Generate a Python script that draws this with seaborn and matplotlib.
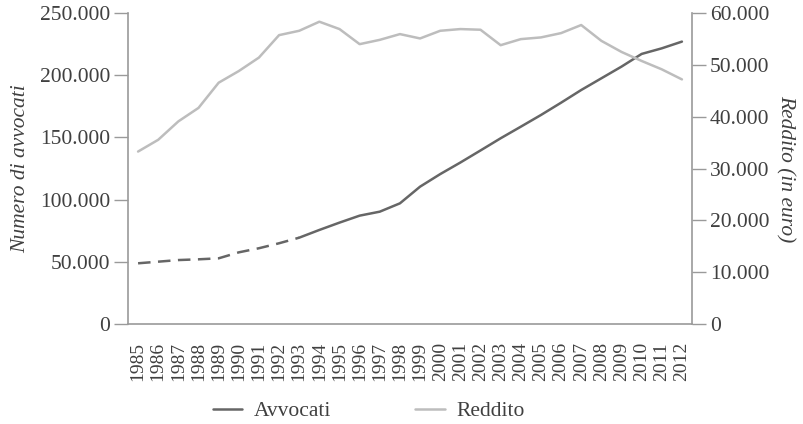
import matplotlib
matplotlib.use("Agg")
import matplotlib.pyplot as plt
import matplotlib.ticker as mticker
from matplotlib.lines import Line2D
import seaborn as sns
import pandas as pd

years = [str(y) for y in range(1985, 2013)]
avvocati = [48800, 50100, 51400, 52000, 52800, 57600, 60900, 64900, 69400, 75600,
            81500, 87100, 90300, 97000, 110400, 120500, 129800, 139500, 149300, 158600,
            168000, 177900, 188100, 197500, 206900, 217100, 221600, 227000]
reddito = [33270, 35540, 39090, 41690, 46550, 48800, 51400, 55730, 56570, 58320,
           56900, 53990, 54820, 55930, 55090, 56570, 56900, 56770, 53790, 54960,
           55290, 56120, 57680, 54630, 52490, 50750, 49130, 47190]
dashed_until = "1993"

sns.set_theme(style="white")
plt.rcParams['font.family'] = ['Liberation Serif', 'DejaVu Serif']

TXT = "#404040"
SPINE = "#9a9a9a"
C_AVV = "#666666"
C_RED = "#bdbdbd"

df = pd.DataFrame({"anno": years, "avvocati": avvocati, "reddito": reddito})
df["pos"] = range(len(df))
cut = years.index(dashed_until)
df_dash = df.iloc[:cut + 1]
df_solid = df.iloc[cut:]

fig = plt.figure(figsize=(8.04, 4.24), dpi=100)
ax = fig.add_axes([128 / 804, 1 - 324 / 424, (692 - 128) / 804, (324 - 13) / 424])
ax2 = ax.twinx()

sns.lineplot(data=df_dash, x="pos", y="avvocati", ax=ax, color=C_AVV, lw=1.8,
             linestyle=(0, (5, 3)))
sns.lineplot(data=df_solid, x="pos", y="avvocati", ax=ax, color=C_AVV, lw=1.8)
sns.lineplot(data=df, x="pos", y="reddito", ax=ax2, color=C_RED, lw=1.8)

n = len(years)
ax.set_xlim(-0.5, n - 0.5)
ax.set_ylim(0, 250000)
ax2.set_ylim(0, 60000)

fmt = mticker.FuncFormatter(lambda v, p: f"{int(v):,}".replace(",", "."))
ax.yaxis.set_major_locator(mticker.MultipleLocator(50000))
ax.yaxis.set_major_formatter(fmt)
ax2.yaxis.set_major_locator(mticker.MultipleLocator(10000))
ax2.yaxis.set_major_formatter(fmt)

ax.set_xticks(range(n))
ax.set_xticklabels(years, rotation=90)
ax.set_xticks([i - 0.5 for i in range(n + 1)], minor=True)
ax.tick_params(axis="x", which="major", length=0, pad=13, labelsize=14, labelcolor=TXT)
ax.tick_params(axis="x", which="minor", length=9, width=1, color=SPINE, direction="out")
ax.tick_params(axis="y", length=10, width=1, color=SPINE, labelsize=15.5, labelcolor=TXT,
               left=True, pad=3)
ax2.tick_params(axis="y", length=10, width=1, color=SPINE, labelsize=15.5, labelcolor=TXT,
                right=True, pad=3)

for a in (ax, ax2):
    a.spines["top"].set_visible(False)
    for s in ("left", "right", "bottom"):
        a.spines[s].set_color(SPINE)
        a.spines[s].set_linewidth(1.2)
ax.spines["right"].set_visible(False)
ax2.spines["left"].set_visible(False)
ax2.spines["bottom"].set_visible(False)

ax.set_xlabel("")
ax.set_ylabel("Numero di avvocati", fontsize=15.5, style="italic", color=TXT, labelpad=7)
ax2.set_ylabel("Reddito (in euro)", fontsize=15.5, style="italic", color=TXT,
               rotation=270, labelpad=18)

handles = [Line2D([], [], color=C_AVV, lw=1.8), Line2D([], [], color=C_RED, lw=1.8)]
leg = fig.legend(handles, ["Avvocati", "Reddito"], loc="center",
                 bbox_to_anchor=(369 / 804, 1 - 411 / 424), ncol=2, frameon=False,
                 fontsize=15.5, handlelength=1.35, columnspacing=3.9, handletextpad=0.55)
for t in leg.get_texts():
    t.set_color(TXT)

fig.savefig("out.png", dpi=100)
